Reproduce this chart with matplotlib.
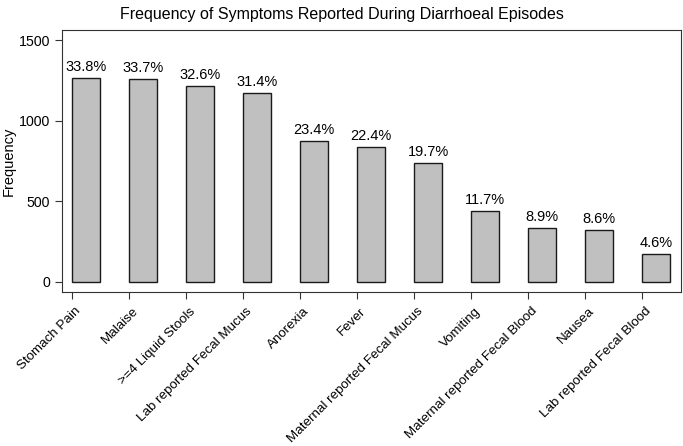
import matplotlib
matplotlib.use("Agg")
import matplotlib.pyplot as plt
from matplotlib.transforms import ScaledTranslation

plt.rcParams['font.family'] = ['Liberation Sans', 'DejaVu Sans']

# Symptom data
symptoms = ['Stomach Pain', 'Malaise', '>=4 Liquid Stools', 'Lab reported Fecal Mucus',
            'Anorexia', 'Fever', 'Maternal reported Fecal Mucus', 'Vomiting',
            'Maternal reported Fecal Blood', 'Nausea', 'Lab reported Fecal Blood']
counts = [1264, 1260, 1219, 1174, 875, 838, 737, 438, 333, 322, 172]
percents = [33.8, 33.7, 32.6, 31.4, 23.4, 22.4, 19.7, 11.7, 8.9, 8.6, 4.6]

fig = plt.figure(figsize=(6.83, 4.46), dpi=100)
ax = fig.add_axes([0.0908, 0.3453, 0.9062, 0.5874])

x = list(range(len(symptoms)))
# ticks sit at the left edge of each bar, as in the original
bars = ax.bar(x, counts, width=0.49, align='edge', color='#c0c0c0',
              edgecolor='#1a1a1a', linewidth=1.0)

for b, p in zip(bars, percents):
    ax.text(b.get_x() + b.get_width() / 2, b.get_height() + 25, f'{p}%',
            ha='center', va='bottom', fontsize=10.5)

ax.set_xlim(-0.175, 10.68)
ax.set_ylim(-64, 1564)
ax.set_yticks([0, 500, 1000, 1500])
ax.set_xticks(x)
ax.set_xticklabels(symptoms, rotation=45, ha='right', rotation_mode='anchor', fontsize=9.6)
ax.tick_params(axis='both', direction='out', length=5, color='#333333')
ax.tick_params(axis='y', labelsize=10.2)
ax.tick_params(axis='x', pad=4.5)
# nudge the rotated labels a little to the right of their ticks
shift = ScaledTranslation(3 / 100, 0, fig.dpi_scale_trans)
for lbl in ax.get_xticklabels():
    lbl.set_transform(lbl.get_transform() + shift)

ax.set_ylabel('Frequency', fontsize=10.5)
ax.yaxis.set_label_coords(-0.074, 0.5)
for s in ax.spines.values():
    s.set_color('#333333')

fig.suptitle('Frequency of Symptoms Reported During Diarrhoeal Episodes', fontsize=11.5, y=0.985)

fig.savefig('out.png', dpi=100)
